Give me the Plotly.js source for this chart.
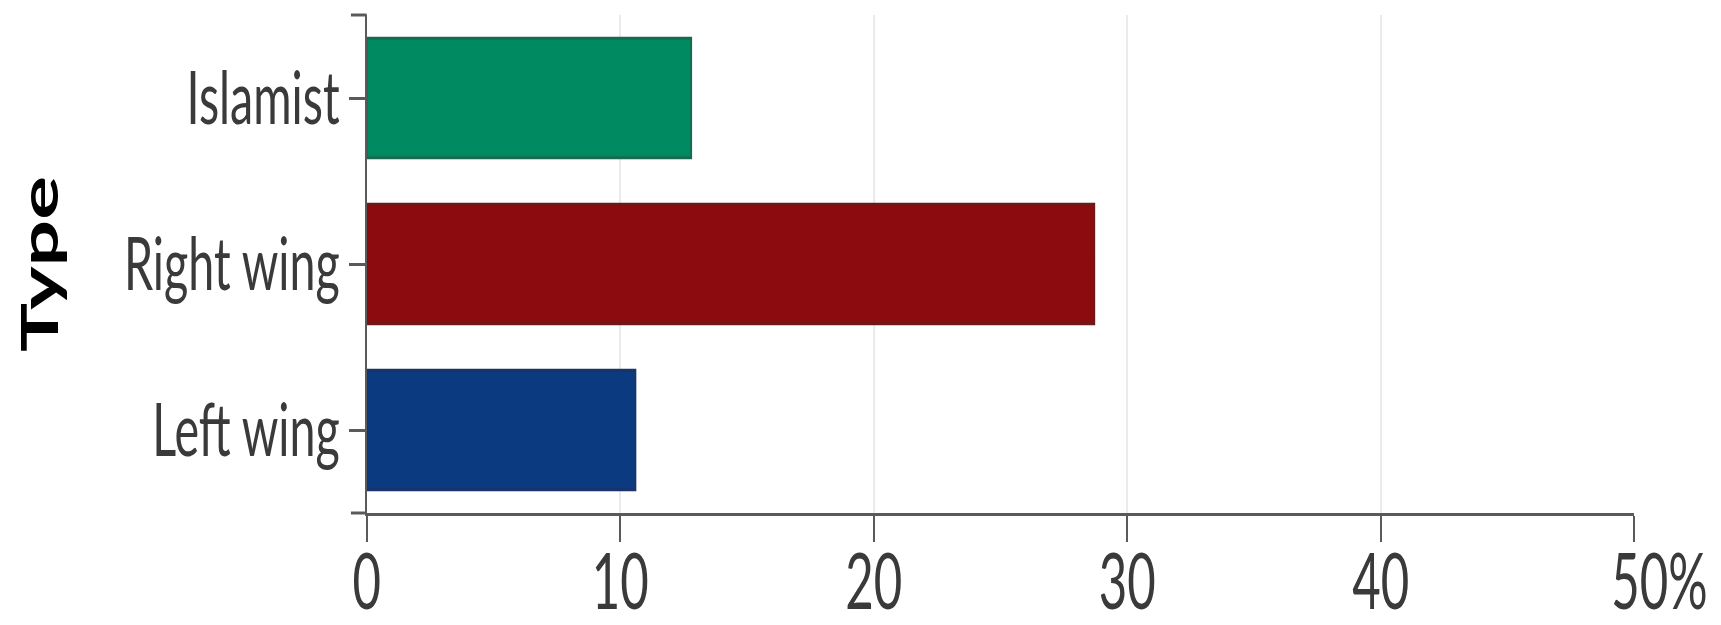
<!DOCTYPE html>
<html>
<head>
<meta charset="utf-8">
<script src="https://cdn.plot.ly/plotly-3.0.1.min.js"></script>
<style>
  html, body { margin: 0; padding: 0; width: 1721px; height: 625px; overflow: hidden; background: #fff; }
  #chart { width: 2732px; height: 625px; transform: scaleX(0.63); transform-origin: 0 0; }
</style>
</head>
<body>
<div id="chart"></div>
<script>
// Data (percent of attacks by type)
const categories = ["Left wing", "Right wing", "Islamist"];
const shares = [10.6, 28.7, 12.8];
const barColors = ["#0b3a80", "#8c0b0e", "#008a62"];
const barEdges = ["#1b3366", "#6a1a18", "#17694f"];
const xTickVals = [0, 10, 20, 30, 40, 50];
const xTickText = ["0", "10", "20", "30", "40", "\u00a0\u00a0\u00a0\u00a050%"];
const yTitle = "Type";

const trace = {
  type: "bar",
  orientation: "h",
  x: shares,
  y: categories,
  marker: { color: barColors, line: { color: barEdges, width: 3 } },
  hoverinfo: "x+y"
};

const layout = {
  width: 2732,
  height: 625,
  margin: { l: 582, r: 138, t: 15, b: 112, pad: 0 },
  paper_bgcolor: "#ffffff",
  plot_bgcolor: "#ffffff",
  showlegend: false,
  bargap: 0.28,
  font: { family: "Lato, 'Open Sans', sans-serif", color: "#3a3a3a" },
  xaxis: {
    range: [0, 50],
    tickvals: xTickVals,
    ticktext: xTickText,
    showgrid: true,
    gridcolor: "#ebebeb",
    gridwidth: 3,
    zeroline: false,
    showline: true,
    linecolor: "#5a5a5a",
    linewidth: 3,
    ticks: "outside",
    ticklen: 26,
    tickwidth: 3,
    tickcolor: "#5a5a5a",
    ticklabelstandoff: -27,
    tickfont: { size: 78, color: "#3a3a3a", family: "Lato" },
    fixedrange: true
  },
  yaxis: {
    type: "category",
    categoryorder: "array",
    categoryarray: categories,
    range: [-0.5, 2.5],
    showgrid: false,
    zeroline: false,
    showline: true,
    linecolor: "#5a5a5a",
    linewidth: 3,
    ticks: "outside",
    ticklen: 25,
    tickwidth: 3,
    tickcolor: "#5a5a5a",
    tickfont: { size: 74, color: "#3a3a3a", family: "Lato" },
    title: { text: yTitle, font: { size: 82, color: "#000000", family: "Lato", weight: "bold" }, standoff: 78 },
    fixedrange: true
  },
  shapes: [
    { type: "line", xref: "paper", yref: "paper", x0: -0.0124, x1: 0, y0: 1, y1: 1, line: { color: "#5a5a5a", width: 3 } },
    { type: "line", xref: "paper", yref: "paper", x0: -0.0124, x1: 0, y0: 0, y1: 0, line: { color: "#5a5a5a", width: 3 } }
  ]
};

Plotly.newPlot("chart", [trace], layout, { displayModeBar: false, staticPlot: true });
</script>
</body>
</html>
